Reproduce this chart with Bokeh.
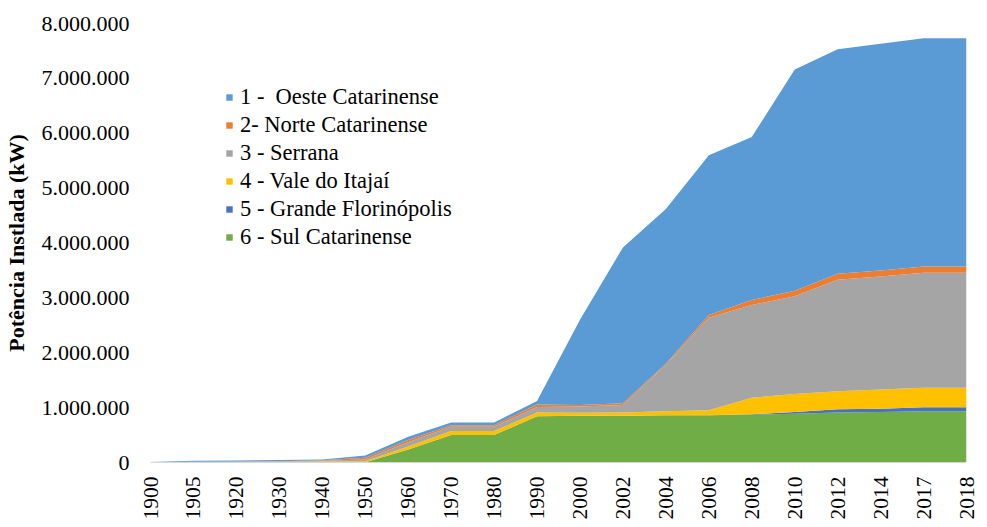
import math
from bokeh.plotting import figure
from bokeh.models import ColumnDataSource, FixedTicker, Legend, LegendItem, Range1d
from bokeh.embed import file_html
from bokeh.resources import INLINE

# ---- data (kW) ----
years = ["1900", "1905", "1920", "1930", "1940", "1950", "1960", "1970", "1980", "1990",
         "2000", "2002", "2004", "2006", "2008", "2010", "2012", "2014", "2017", "2018"]

sul_catarinense = [0, 0, 0, 0, 0, 5000, 235000, 500000, 500000, 845000,
                   850000, 850000, 860000, 860000, 870000, 890000, 910000, 920000, 935000, 935000]
grande_florianopolis = [0, 0, 0, 0, 0, 0, 0, 0, 0, 0,
                        0, 0, 2000, 3000, 10000, 30000, 60000, 60000, 72000, 72000]
vale_itajai = [3000, 8000, 10000, 13000, 18000, 20000, 55000, 75000, 75000, 65000,
               55000, 60000, 73000, 87000, 300000, 330000, 330000, 350000, 353000, 353000]
serrana = [2000, 4000, 5000, 7000, 12000, 28000, 80000, 75000, 75000, 100000,
           115000, 140000, 845000, 1690000, 1690000, 1780000, 2030000, 2060000, 2100000, 2100000]
norte_catarinense = [1000, 3000, 5000, 5000, 10000, 35000, 40000, 30000, 30000, 45000,
                     30000, 30000, 20000, 50000, 90000, 100000, 110000, 110000, 110000, 110000]
oeste_catarinense = [2000, 15000, 15000, 20000, 15000, 40000, 60000, 50000, 50000, 65000,
                     1550000, 2840000, 2820000, 2910000, 2970000, 4030000, 4090000, 4130000, 4160000, 4160000]

series_keys = ["sul", "gfl", "vale", "serrana", "norte", "oeste"]
series_labels = ["6 - Sul Catarinense", "5 - Grande Florinópolis", "4 - Vale do Itajaí",
                 "3 - Serrana", "2- Norte Catarinense", "1 -  Oeste Catarinense"]
series_colors = ["#70AD47", "#4472C4", "#FFC000", "#A5A5A5", "#ED7D31", "#5B9BD5"]

y_ticks = [0, 1000000, 2000000, 3000000, 4000000, 5000000, 6000000, 7000000, 8000000]
y_tick_labels = ["0", "1.000.000", "2.000.000", "3.000.000", "4.000.000",
                 "5.000.000", "6.000.000", "7.000.000", "8.000.000"]

FONT = "Liberation Serif"

x_idx = list(range(len(years)))
source = ColumnDataSource(dict(
    x=x_idx,
    sul=sul_catarinense,
    gfl=grande_florianopolis,
    vale=vale_itajai,
    serrana=serrana,
    norte=norte_catarinense,
    oeste=oeste_catarinense,
))

p = figure(frame_width=816, frame_height=439, output_backend="svg", toolbar_location=None,
           x_range=Range1d(0, len(years) - 1), y_range=Range1d(0, 8000000),
           min_border_left=142, min_border_right=13, min_border_top=23, min_border_bottom=40)
p.outline_line_color = None
p.background_fill_color = "white"
p.border_fill_color = "white"

renderers = p.varea_stack(stackers=series_keys, x="x", color=series_colors, source=source)

# grids
p.xgrid.visible = False
p.ygrid.visible = False

# x axis
p.xaxis.ticker = FixedTicker(ticks=x_idx)
p.xaxis.major_label_overrides = {i: y for i, y in enumerate(years)}
p.xaxis.major_label_orientation = math.pi / 2
p.xaxis.major_label_text_font = FONT
p.xaxis.major_label_text_font_size = "21.5px"
p.xaxis.major_label_text_color = "black"
p.xaxis.major_label_standoff = 8
p.xaxis.major_tick_line_color = None
p.xaxis.minor_tick_line_color = None
p.xaxis.axis_line_color = "#D9D9D9"

# y axis
p.yaxis.ticker = FixedTicker(ticks=y_ticks)
p.yaxis.major_label_overrides = {t: l for t, l in zip(y_ticks, y_tick_labels)}
p.yaxis.major_label_text_font = FONT
p.yaxis.major_label_text_font_size = "22px"
p.yaxis.major_label_text_color = "black"
p.yaxis.major_label_standoff = 15
p.yaxis.major_tick_line_color = None
p.yaxis.minor_tick_line_color = None
p.yaxis.axis_line_color = None
p.yaxis.axis_label = "Potência Instlada (kW)"
p.yaxis.axis_label_text_font = FONT
p.yaxis.axis_label_text_font_size = "22px"
p.yaxis.axis_label_text_font_style = "bold"
p.yaxis.axis_label_text_color = "black"
p.yaxis.axis_label_standoff = 10

# legend (top-to-bottom: 1 .. 6)
items = [LegendItem(label=series_labels[i], renderers=[renderers[i]])
         for i in reversed(range(len(series_keys)))]
legend = Legend(items=items, location=(75, 211))
legend.padding = 0
legend.margin = 0
legend.spacing = 0
legend.border_line_color = None
legend.background_fill_alpha = 0
legend.glyph_width = 8
legend.glyph_height = 8
legend.label_height = 28
legend.label_standoff = 7
legend.label_text_font = FONT
legend.label_text_font_size = "22.5px"
legend.label_text_color = "black"
p.add_layout(legend, "center")

open("out.html", "w").write(file_html(p, INLINE))
